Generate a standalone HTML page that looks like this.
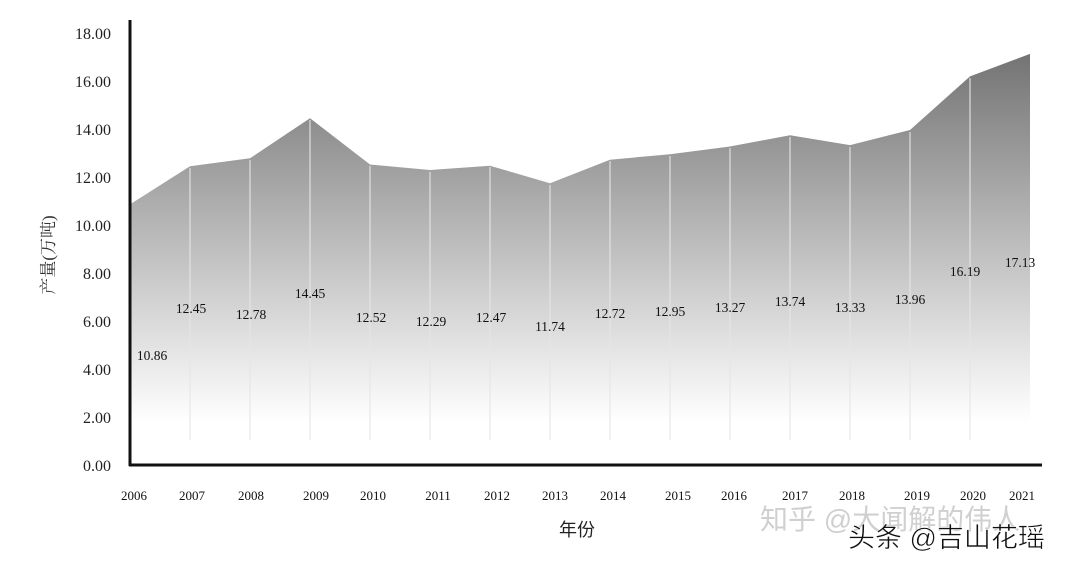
<!DOCTYPE html>
<html><head><meta charset="utf-8"><style>
body{margin:0;background:#fff;}
svg{display:block;font-family:"Liberation Serif","Noto Serif CJK SC",serif;}
</style></head><body>
<svg width="1066" height="562" viewBox="0 0 1066 562">
<defs>
<linearGradient id="g" x1="0" y1="40" x2="0" y2="465" gradientUnits="userSpaceOnUse">
<stop offset="0" stop-color="#6e6e6e"/>
<stop offset="0.45" stop-color="#b8b8b8"/>
<stop offset="0.9" stop-color="#ffffff"/>
</linearGradient>
</defs>
<rect width="1066" height="562" fill="#fff"/>
<polygon fill="url(#g)" points="130,465 130,204.4 190,166.2 250,158.3 310,118.2 370,164.5 430,170 490,165.7 550,183.2 610,159.7 670,154.2 730,146.5 790,135.2 850,145.1 910,130 970,76.4 1030,53.9 1030,465"/>
<g stroke="#e6e6e6" stroke-width="2" opacity="0.55">
<line x1="190" y1="168" x2="190" y2="440"/><line x1="250" y1="160" x2="250" y2="440"/><line x1="310" y1="120" x2="310" y2="440"/><line x1="370" y1="166" x2="370" y2="440"/><line x1="430" y1="172" x2="430" y2="440"/><line x1="490" y1="167" x2="490" y2="440"/><line x1="550" y1="185" x2="550" y2="440"/><line x1="610" y1="161" x2="610" y2="440"/><line x1="670" y1="156" x2="670" y2="440"/><line x1="730" y1="148" x2="730" y2="440"/><line x1="790" y1="137" x2="790" y2="440"/><line x1="850" y1="147" x2="850" y2="440"/><line x1="910" y1="132" x2="910" y2="440"/><line x1="970" y1="78" x2="970" y2="440"/>
</g>
<line x1="130" y1="20" x2="130" y2="466" stroke="#111" stroke-width="3"/>
<line x1="129" y1="465" x2="1042" y2="465" stroke="#111" stroke-width="3"/>
<g font-size="16" fill="#222" text-anchor="end">
<text x="111" y="471">0.00</text><text x="111" y="423">2.00</text><text x="111" y="375">4.00</text><text x="111" y="327">6.00</text><text x="111" y="279">8.00</text><text x="111" y="231">10.00</text><text x="111" y="183">12.00</text><text x="111" y="135">14.00</text><text x="111" y="87">16.00</text><text x="111" y="39">18.00</text>
</g>
<g font-size="13.5" fill="#111" text-anchor="middle">
<text x="152" y="360">10.86</text><text x="191" y="313">12.45</text><text x="251" y="319">12.78</text><text x="310" y="298">14.45</text><text x="371" y="322">12.52</text><text x="431" y="326">12.29</text><text x="491" y="322">12.47</text><text x="550" y="331">11.74</text><text x="610" y="318">12.72</text><text x="670" y="316">12.95</text><text x="730" y="312">13.27</text><text x="790" y="306">13.74</text><text x="850" y="312">13.33</text><text x="910" y="304">13.96</text><text x="965" y="276">16.19</text><text x="1020" y="267">17.13</text>
</g>
<g font-size="13" fill="#111" text-anchor="middle">
<text x="134" y="500">2006</text><text x="192" y="500">2007</text><text x="251" y="500">2008</text><text x="316" y="500">2009</text><text x="373" y="500">2010</text><text x="438" y="500">2011</text><text x="497" y="500">2012</text><text x="555" y="500">2013</text><text x="613" y="500">2014</text><text x="678" y="500">2015</text><text x="734" y="500">2016</text><text x="795" y="500">2017</text><text x="852" y="500">2018</text><text x="917" y="500">2019</text><text x="973" y="500">2020</text><text x="1022" y="500">2021</text>
</g>
<text x="577" y="536" font-size="18" text-anchor="middle" fill="#222" font-family="Liberation Sans,Noto Sans CJK SC,sans-serif">年份</text>
<text transform="translate(54,255) rotate(-90)" font-size="17" text-anchor="middle" fill="#333">产量(万吨)</text>
<text x="760" y="529" font-size="28" fill="#d0d0d0" font-family="Liberation Sans,Noto Sans CJK SC,sans-serif">知乎 @大闻解的伟人</text>
<text x="848" y="547" font-size="27" fill="#111" font-family="Liberation Sans,Noto Sans CJK SC,sans-serif" stroke="#fff" stroke-width="0.5">头条 @吉山花瑶</text>
</svg>
</body></html>
